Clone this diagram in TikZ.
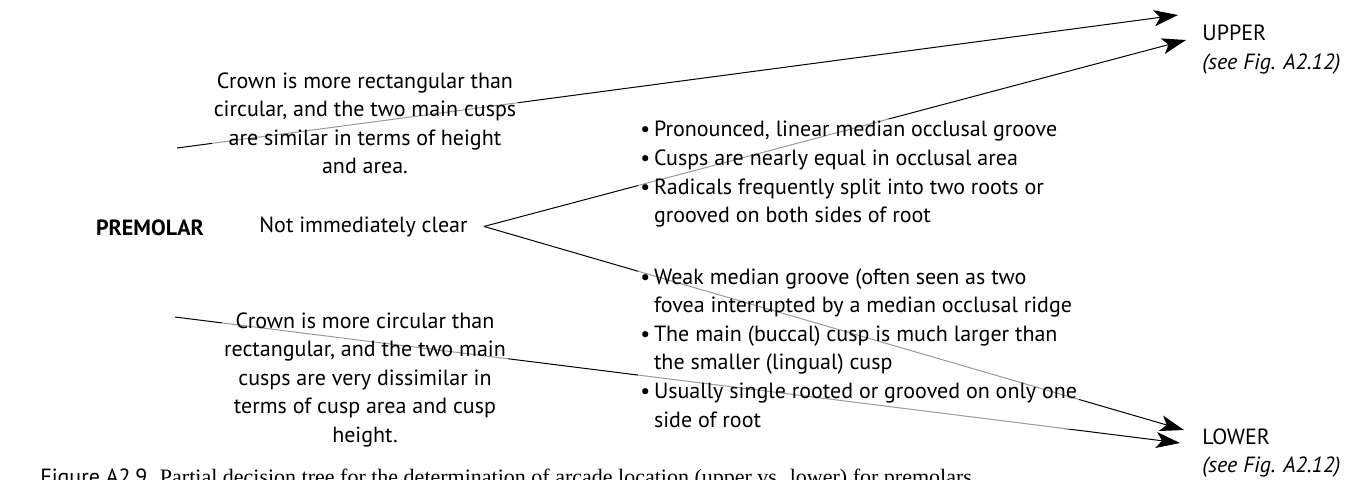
\documentclass[tikz,border=0pt]{standalone}
\usepackage{fontspec}
\setmainfont{PT Sans}
\newfontfamily\capserif{Liberation Serif}
\usetikzlibrary{arrows.meta,backgrounds}
\tikzset{
  txt/.style={inner sep=1pt, fill=white, fill opacity=0.6, text opacity=1,
    font=\fontsize{11}{14.3}\selectfont},
  crown/.style={txt, align=center, anchor=north},
  traits/.style={txt, align=left, anchor=north west},
  arcade/.style={txt, align=left, anchor=north west},
  branch/.style={line width=0.5pt, -{Stealth[length=12pt,width=8pt,inset=3pt]}},
}
\newcommand{\bul}{\textbullet\,}
\newcommand{\nobul}{\hphantom{\textbullet\,}}
\begin{document}
\begin{tikzpicture}[x=0.5pt,y=-0.5pt]
  \useasboundingbox (0,0) rectangle (1359,479);
  % labels
  \node[txt, font=\fontsize{11}{14.3}\selectfont\bfseries, anchor=base] (premolar) at (150,235) {PREMOLAR};
  \node[txt, anchor=base west] (unclear) at (257,232) {Not immediately clear};
  \node[crown] (rectcrown) at (365,70) {Crown is more rectangular than\\circular, and the two main cusps\\are similar in terms of height\\and area.};
  \node[crown] (circcrown) at (365,310) {Crown is more circular than\\rectangular, and the two main\\cusps are very dissimilar in\\terms of cusp area and cusp\\height.};
  \node[traits] (uptraits) at (638,119) {\bul Pronounced, linear median occlusal groove\\
    \bul Cusps are nearly equal in occlusal area\\
    \bul Radicals frequently split into two roots or\\
    \nobul grooved on both sides of root};
  \node[traits] (lowtraits) at (638,266) {\bul Weak median groove (often seen as two\\
    \nobul fovea interrupted by a median occlusal ridge\\
    \bul The main (buccal) cusp is much larger than\\
    \nobul the smaller (lingual) cusp\\
    \bul Usually single rooted or grooved on only one\\
    \nobul side of root};
  \node[arcade] (upper) at (1200,23) {UPPER\\\textit{(see Fig. A2.12)}};
  \node[arcade] (lower) at (1200,426) {LOWER\\\textit{(see Fig. A2.12)}};
  \node[anchor=base west, inner sep=0pt, font=\fontsize{11}{13}\selectfont] (caption) at (40,484)
    {Figure A2.9. {\capserif Partial decision tree for the determination of arcade location (upper vs. lower) for premolars.}};
  % connectors
  \coordinate (rectstart) at (177,148);
  \coordinate (circstart) at (175,317);
  \coordinate (fork) at ([xshift=7pt]unclear.east);
  \coordinate (upA) at ([xshift=-11pt,yshift=4pt]upper.north west);
  \coordinate (upB) at ([xshift=-7pt,yshift=-8.5pt]upper.north west);
  \coordinate (lowA) at ([xshift=-8pt,yshift=-2pt]lower.north west);
  \coordinate (lowB) at ([xshift=-10pt,yshift=-8.5pt]lower.north west);
  \begin{scope}[on background layer]
    \draw[branch] (rectstart) -- (upA);
    \draw[branch] (fork) -- (upB);
    \draw[branch] (fork) -- (lowA);
    \draw[branch] (circstart) -- (lowB);
  \end{scope}
\end{tikzpicture}
\end{document}
